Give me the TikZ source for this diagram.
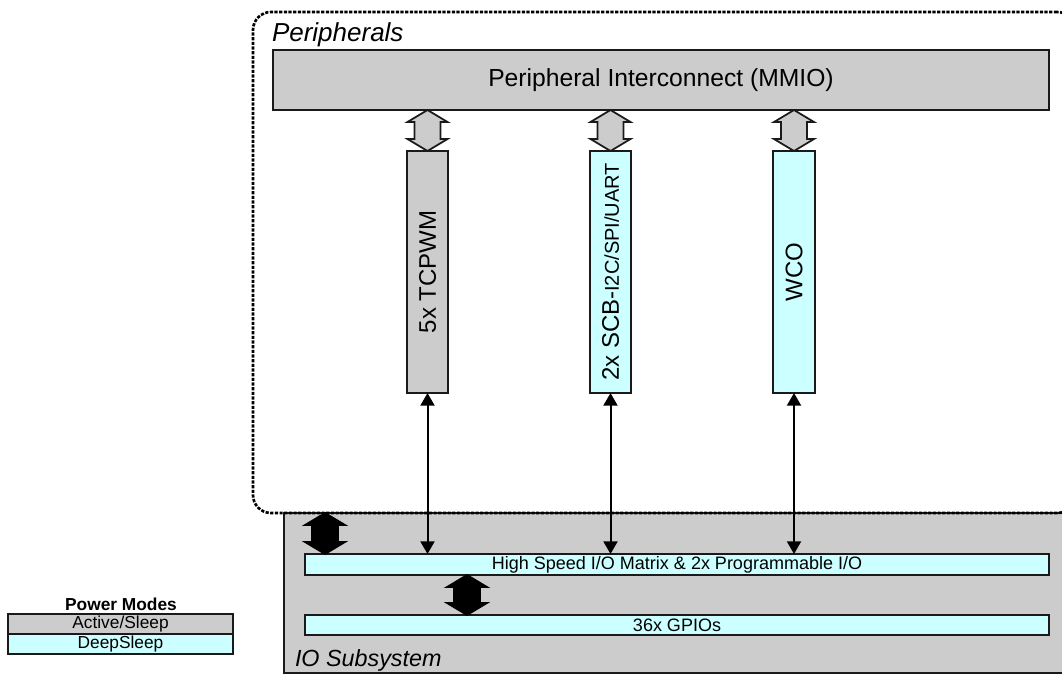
\documentclass[tikz,border=0pt]{standalone}
\usepackage{fontspec}
\setmainfont{Liberation Sans}
\usetikzlibrary{fit,calc,arrows.meta}
\definecolor{graybox}{HTML}{CCCCCC}
\definecolor{cyanbox}{HTML}{CCFFFF}
\definecolor{edge}{HTML}{1A1A1A}
\tikzset{
  fitbox/.style={draw=edge, line width=1.8pt, inner sep=0pt, outer sep=0pt},
  graybx/.style={fitbox, fill=graybox},
  cyanbx/.style={fitbox, fill=cyanbox},
  txt/.style={inner sep=0pt, outer sep=0pt, text=black},
  bigtxt/.style={txt, font=\fontsize{18}{20}\selectfont},
  midtxt/.style={txt, font=\fontsize{13.5}{15}\selectfont},
  legtxt/.style={txt, font=\fontsize{13}{15}\selectfont},
  thinlink/.style={line width=1.5pt, draw=black, {Triangle[length=9.5pt,width=10.5pt]}-{Triangle[length=9.5pt,width=10.5pt]}},
  hollowfat/.style={draw=edge, line width=1.3pt, fill=graybox, line join=miter},
  solidfat/.style={draw=black, line width=1.3pt, fill=black, line join=miter},
}
\newcommand\fatlink[3]{%
  \draw[#3] (#1) -- ($(#1)+(20,12)$) -- ($(#1)+(13,12)$) -- ($(#2)+(13,-12)$)
    -- ($(#2)+(20,-12)$) -- (#2) -- ($(#2)+(-20,-12)$) -- ($(#2)+(-13,-12)$)
    -- ($(#1)+(-13,12)$) -- ($(#1)+(-20,12)$) -- cycle;}
\begin{document}
\begin{tikzpicture}[x=0.75pt, y=-0.75pt]
\clip (0,0) rectangle (1062,675);
\fill[white] (0,0) rectangle (1062,675);
% IO subsystem
\node[graybx, fit={(284,513)(1080,673)}] (io) {};
% Peripherals dashed region
\node[fit={(253,12)(1075,513)}, inner sep=0pt, outer sep=0pt, draw=black,
      line width=2pt, dash pattern=on 2.4pt off 1.1pt, rounded corners=13.5pt] (periph) {};
\node[txt, anchor=west, font=\fontsize{19.5}{22}\selectfont\itshape] (periphlbl) at (272,35) {Peripherals};
\node[txt, anchor=west, font=\fontsize{17.5}{20}\selectfont\itshape] (iolbl) at (295,660) {IO Subsystem};
% Interconnect
\node[graybx, fit={(273,50)(1049,110)}] (pic) {};
\node[txt, font=\fontsize{18.5}{20}\selectfont] (pictxt) at (pic.center) {Peripheral Interconnect (MMIO)};
% Columns
\node[graybx, fit={(407,151)(448,393)}] (tcp) {};
\node[bigtxt, rotate=90] (tcptxt) at (tcp.center) {5x TCPWM};
\node[cyanbx, fit={(590,151)(631,393)}] (scb) {};
\node[txt, rotate=90] (scbtxt) at (scb.center) {\fontsize{18}{20}\selectfont 2x SCB-\fontsize{15}{17}\selectfont I2C/SPI/UART};
\node[cyanbx, fit={(773,151)(815,393)}] (wco) {};
\node[bigtxt, rotate=90] (wcotxt) at (wco.center) {WCO};
% IO bars
\node[cyanbx, fit={(305,554)(1049,575)}] (hsio) {};
\node[midtxt] (hsiotxt) at (hsio.center) {High Speed I/O Matrix \& 2x Programmable I/O};
\node[cyanbx, fit={(305,615)(1049,635)}] (gpio) {};
\node[midtxt] (gpiotxt) at (gpio.center) {36x GPIOs};
% Fat hollow arrows
\fatlink{pic.south -| tcp.north}{tcp.north}{hollowfat}
\fatlink{pic.south -| scb.north}{scb.north}{hollowfat}
\fatlink{pic.south -| wco.north}{wco.north}{hollowfat}
% Thin links
\draw[thinlink] (tcp.south) -- (tcp.south |- hsio.north);
\draw[thinlink] (scb.south) -- (scb.south |- hsio.north);
\draw[thinlink] (wco.south) -- (wco.south |- hsio.north);
% Solid fat arrows
\coordinate (ba1) at ($(hsio.north west)+(20,0)$);
\coordinate (ba2) at ($(gpio.north west)+(162,0)$);
\fatlink{ba1 |- io.north}{ba1}{solidfat}
\fatlink{ba2 |- hsio.south}{ba2}{solidfat}
% Legend
\node[txt, font=\fontsize{13}{15}\selectfont\bfseries] (legtitle) at (121,604) {Power Modes};
\node[graybx, fit={(8,614)(233,634)}] (legact) {};
\node[legtxt] (legacttxt) at (legact.center) {Active/Sleep};
\node[cyanbx, fit={(8,634)(233,654)}] (legdeep) {};
\node[legtxt] (legdeeptxt) at (legdeep.center) {DeepSleep};
\end{tikzpicture}
\end{document}
